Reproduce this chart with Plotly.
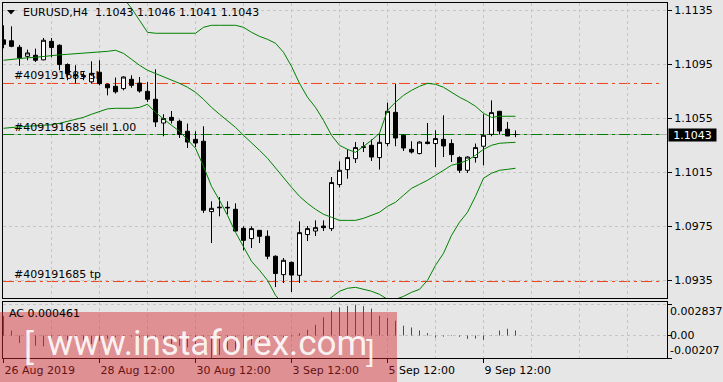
import plotly.graph_objects as go

# ---------------- data ----------------
bar_index = list(range(65))

open_ = [1.11131, 1.11124, 1.11076, 1.11009, 1.11017, 1.10983, 1.11120, 1.11091, 1.10948, 1.10872,
         1.10865, 1.10820, 1.10891, 1.10802, 1.10787, 1.10770, 1.10839, 1.10811, 1.10750, 1.10691,
         1.10515, 1.10557, 1.10528, 1.10454, 1.10394, 1.10380, 1.09859, 1.09887, 1.09891, 1.09876,
         1.09735, 1.09659, 1.09720, 1.09676, 1.09528, 1.09392, 1.09483, 1.09387, 1.09689, 1.09715,
         1.09752, 1.09733, 1.10059, 1.10170, 1.10251, 1.10339, 1.10350, 1.10259, 1.10363, 1.10594,
         1.10424, 1.10320, 1.10289, 1.10374, 1.10363, 1.10394, 1.10363, 1.10259, 1.10165, 1.10259,
         1.10343, 1.10431, 1.10602, 1.10469, 1.1043]
high = [1.11239, 1.11231, 1.11094, 1.11059, 1.11066, 1.11145, 1.11145, 1.11098, 1.10957, 1.10943,
        1.10891, 1.10972, 1.10980, 1.10807, 1.10852, 1.10861, 1.10869, 1.10856, 1.10819, 1.10913,
        1.10580, 1.10604, 1.10540, 1.10511, 1.10454, 1.10491, 1.09935, 1.09967, 1.09935, 1.09920,
        1.09750, 1.09750, 1.09720, 1.09720, 1.09535, 1.09515, 1.09489, 1.09787, 1.09752, 1.09794,
        1.09794, 1.10115, 1.10231, 1.10320, 1.10374, 1.10374, 1.10394, 1.10437, 1.10666, 1.10807,
        1.10431, 1.10380, 1.10380, 1.10515, 1.10461, 1.10572, 1.10394, 1.10269, 1.10269, 1.10363,
        1.10580, 1.10683, 1.10602, 1.10523, 1.1046]
low = [1.11069, 1.11076, 1.10939, 1.10980, 1.10967, 1.10980, 1.11002, 1.10906, 1.10832, 1.10809,
       1.10832, 1.10809, 1.10794, 1.10720, 1.10733, 1.10757, 1.10776, 1.10740, 1.10671, 1.10486,
       1.10417, 1.10511, 1.10404, 1.10330, 1.10337, 1.09849, 1.09626, 1.09824, 1.09839, 1.09708,
       1.09572, 1.09589, 1.09626, 1.09506, 1.09300, 1.09330, 1.09263, 1.09330, 1.09641, 1.09678,
       1.09715, 1.09715, 1.10037, 1.10103, 1.10219, 1.10300, 1.10234, 1.10170, 1.10343, 1.10343,
       1.10308, 1.10289, 1.10283, 1.10357, 1.10189, 1.10263, 1.10226, 1.10145, 1.10145, 1.10222,
       1.10202, 1.10417, 1.10431, 1.10419, 1.1041]
close = [1.11098, 1.11083, 1.10998, 1.11034, 1.10980, 1.11128, 1.11074, 1.10948, 1.10881, 1.10865,
         1.10861, 1.10883, 1.10807, 1.10776, 1.10746, 1.10856, 1.10794, 1.10752, 1.10691, 1.10523,
         1.10548, 1.10535, 1.10431, 1.10374, 1.10367, 1.09869, 1.09883, 1.09891, 1.09887, 1.09715,
         1.09646, 1.09733, 1.09676, 1.09528, 1.09400, 1.09498, 1.09389, 1.09703, 1.09733, 1.09740,
         1.09740, 1.10074, 1.10165, 1.10259, 1.10333, 1.10335, 1.10263, 1.10372, 1.10602, 1.10404,
         1.10330, 1.10300, 1.10374, 1.10363, 1.10400, 1.10345, 1.10281, 1.10165, 1.10263, 1.10333,
         1.10424, 1.10592, 1.10456, 1.10419, 1.1043]

bb_upper = [1.11483, 1.11498, 1.11506, 1.11513, 1.11520, 1.11528, 1.11535, 1.11535, 1.11535, 1.11535,
            1.11528, 1.11528, 1.11520, 1.11498, 1.11483, 1.11439, 1.11365, 1.11276, 1.11187, 1.11180,
            1.11180, 1.11180, 1.11180, 1.11180, 1.11180, 1.11224, 1.11239, 1.11239, 1.11239, 1.11239,
            1.11224, 1.11187, 1.11157, 1.11135, 1.11106, 1.11039, 1.10935, 1.10809, 1.10706, 1.10631,
            1.10535, 1.10424, 1.10350, 1.10320, 1.10298, 1.10343, 1.10387, 1.10439, 1.10609, 1.10669,
            1.10720, 1.10757, 1.10787, 1.10809, 1.10802, 1.10780, 1.10743, 1.10706, 1.10676, 1.10639,
            1.10587, 1.10557, 1.10565, 1.10565, 1.10565]
bb_middle = [1.10980, 1.10987, 1.10994, 1.10998, 1.11002, 1.11009, 1.11017, 1.11020, 1.11024, 1.11028,
             1.11031, 1.11035, 1.11039, 1.11046, 1.11054, 1.11031, 1.10987, 1.10943, 1.10906, 1.10883,
             1.10854, 1.10831, 1.10809, 1.10780, 1.10743, 1.10691, 1.10631, 1.10580, 1.10535, 1.10483,
             1.10424, 1.10372, 1.10313, 1.10254, 1.10180, 1.10106, 1.10039, 1.09972, 1.09920, 1.09876,
             1.09839, 1.09817, 1.09794, 1.09794, 1.09794, 1.09809, 1.09831, 1.09854, 1.09898, 1.09928,
             1.09980, 1.10031, 1.10061, 1.10091, 1.10128, 1.10165, 1.10202, 1.10217, 1.10239, 1.10276,
             1.10320, 1.10350, 1.10365, 1.10369, 1.10372]
bb_lower = [1.10476, 1.10483, 1.10487, 1.10491, 1.10494, 1.10498, 1.10502, 1.10513, 1.10528, 1.10543,
            1.10557, 1.10580, 1.10602, 1.10620, 1.10624, 1.10624, 1.10624, 1.10631, 1.10654, 1.10594,
            1.10543, 1.10498, 1.10454, 1.10387, 1.10328, 1.10194, 1.10046, 1.09943, 1.09831, 1.09706,
            1.09594, 1.09491, 1.09424, 1.09350, 1.09239, 1.09172, 1.09143, 1.09135, 1.09135, 1.09157,
            1.09187, 1.09224, 1.09269, 1.09291, 1.09298, 1.09283, 1.09269, 1.09246, 1.09209, 1.09209,
            1.09231, 1.09261, 1.09283, 1.09350, 1.09461, 1.09550, 1.09683, 1.09780, 1.09854, 1.09972,
            1.10106, 1.10143, 1.10165, 1.10172, 1.10180]

ac_values = [0.00180, 0.00045, -0.00070, -0.00120, -0.00095, -0.00100, -0.00060, -0.00030, -0.00045, -0.00055,
             -0.00065, -0.00080, -0.00050, -0.00030, -0.00015, -0.00005, -0.00010, -0.00020, -0.00035, -0.00060,
             -0.00070, -0.00080, -0.00095, -0.00110, -0.00130, -0.00170, -0.00207, -0.00180, -0.00150, -0.00140,
             -0.00120, -0.00090, -0.00060, -0.00045, -0.00040, -0.00020, -0.00010, 0.00020, 0.00052, 0.00099,
             0.00167, 0.00228, 0.00259, 0.00272, 0.002837, 0.00270, 0.00247, 0.00182, 0.00161, 0.00136,
             0.00090, 0.00074, 0.00046, 0.00022, -0.00019, -0.00010, -0.00005, -0.00012, -0.00031, -0.00028,
             -0.00040, 0.00003, 0.00046, 0.00062, 0.000461]

time_tick_index = [0, 12, 24, 36, 48, 60]
time_tick_text = ["26 Aug 2019", "28 Aug 12:00", "30 Aug 12:00", "3 Sep 12:00", "5 Sep 12:00", "9 Sep 12:00"]
grid_index = list(range(0, 84, 6))
price_ticks = [1.0935, 1.0975, 1.1015, 1.1055, 1.1095, 1.1135]
price_tick_text = ["1.0935", "1.0975", "1.1015", "1.1055", "1.1095", "1.1135"]
ac_ticks = [-0.00207, 0.0, 0.002837]
ac_tick_text = ["-0.00207", "0.00", "0.002837"]

symbol = "EURUSD,H4"
header_ohlc = ["1.1043", "1.1046", "1.1041", "1.1043"]
order_id = "#409191685"
order_sl = 1.10808
order_entry = 1.1043
order_tp = 1.09341
bid_price = 1.1043
ac_last = 0.000461

# ---------------- geometry / style ----------------
W, H = 723, 382
ML, MR, MT, MB = 3, 56, 3, 24
PW, PH = W - ML - MR, H - MT - MB          # 664 x 355
BG = "#e6e6e6"
GRID = "#c6c6c6"
GREEN = "#008000"
ORANGE = "#f0461a"
FONT = dict(family="DejaVu Sans", size=11, color="#000000")
DASHDOT = "11px,4px,3px,4px"


def px_x(px):
    return (px - ML) / PW


def px_y(py):
    return (H - MB - py) / PH


MAIN_H = 295                     # main pane: pixel rows 3..298
main_domain = [1 - MAIN_H / PH, 1.0]
sub_domain = [0.0, 56 / PH]      # sub pane: pixel rows 302..358
x_range = [-0.0625, 82.9375]     # 8 px per bar
price_top = 1.114041
price_range = [price_top - MAIN_H / 13500, price_top]
ac_range = [-0.00207, 0.00308]

fig = go.Figure()

fig.add_trace(go.Candlestick(
    x=bar_index, open=open_, high=high, low=low, close=close,
    increasing=dict(fillcolor="#ffffff", line=dict(color="#000000", width=1)),
    decreasing=dict(fillcolor="#000000", line=dict(color="#000000", width=1)),
    whiskerwidth=0, xaxis="x", yaxis="y", showlegend=False, hoverinfo="skip"))

for band in (bb_upper, bb_middle, bb_lower):
    fig.add_trace(go.Scatter(x=bar_index, y=band, mode="lines",
                             line=dict(color=GREEN, width=1), xaxis="x", yaxis="y",
                             showlegend=False, hoverinfo="skip"))

up_x, up_y, dn_x, dn_y = [], [], [], []
for i, v in enumerate(ac_values):
    rising = i > 0 and v > ac_values[i - 1]
    xs, ys = (up_x, up_y) if rising else (dn_x, dn_y)
    xs += [bar_index[i], bar_index[i], None]
    ys += [0, v, None]
fig.add_trace(go.Scatter(x=up_x, y=up_y, mode="lines", line=dict(color=GREEN, width=1),
                         xaxis="x2", yaxis="y2", showlegend=False, hoverinfo="skip"))
fig.add_trace(go.Scatter(x=dn_x, y=dn_y, mode="lines", line=dict(color="#ff0000", width=1),
                         xaxis="x2", yaxis="y2", showlegend=False, hoverinfo="skip"))

frame = dict(showline=True, mirror=True, linecolor="#000000", linewidth=1, zeroline=False)

shapes = [
    dict(type="line", xref="paper", yref="y", x0=0, x1=1, y0=bid_price, y1=bid_price,
         line=dict(color="#b0b0b0", width=1), layer="between"),
    dict(type="line", xref="paper", yref="y", x0=0, x1=0.99, y0=order_entry, y1=order_entry,
         line=dict(color=GREEN, width=1, dash=DASHDOT), layer="between"),
    dict(type="line", xref="paper", yref="y", x0=0, x1=0.99, y0=order_sl, y1=order_sl,
         line=dict(color=ORANGE, width=1, dash=DASHDOT), layer="between"),
    dict(type="line", xref="paper", yref="y", x0=0, x1=0.99, y0=order_tp, y1=order_tp,
         line=dict(color=ORANGE, width=1, dash=DASHDOT), layer="between"),
    # title triangle
    dict(type="path", xref="paper", yref="paper",
         path=f"M {px_x(7)} {px_y(10)} L {px_x(15)} {px_y(10)} L {px_x(11)} {px_y(14.5)} Z",
         fillcolor="#000000", line=dict(width=0), layer="above"),
    # watermark band
    dict(type="rect", xref="paper", yref="paper", x0=px_x(0), x1=px_x(397), y0=px_y(382), y1=px_y(312),
         fillcolor="rgba(212,40,46,0.45)", line=dict(width=0), layer="above"),
]

annotations = [
    dict(xref="paper", yref="paper", x=px_x(21), y=px_y(12.5), xanchor="left", yanchor="middle",
         text=symbol + "\u00a0\u00a0" + " ".join(header_ohlc), showarrow=False, font=FONT),
    dict(xref="paper", yref="y", x=px_x(12), y=order_sl, xanchor="left", yanchor="bottom", yshift=-1,
         text=order_id + " sl", showarrow=False, font=FONT),
    dict(xref="paper", yref="y", x=px_x(12), y=order_entry, xanchor="left", yanchor="bottom", yshift=-1,
         text=order_id + " sell 1.00", showarrow=False, font=FONT),
    dict(xref="paper", yref="y", x=px_x(12), y=order_tp, xanchor="left", yanchor="bottom", yshift=-1,
         text=order_id + " tp", showarrow=False, font=FONT),
    dict(xref="paper", yref="y", x=px_x(668), y=bid_price, xanchor="left", yanchor="middle",
         text=f"{bid_price:.4f}", showarrow=False, bgcolor="#000000", width=47, height=12,
         borderpad=0, font=dict(family="DejaVu Sans", size=11, color="#ffffff")),
    dict(xref="paper", yref="paper", x=px_x(7), y=px_y(313.5), xanchor="left", yanchor="middle",
         text=f"AC {ac_last:.6f}", showarrow=False, font=FONT),
    # AC axis labels
    dict(xref="paper", yref="paper", x=px_x(669), y=px_y(311.5), xanchor="left", yanchor="middle",
         borderpad=0, text=ac_tick_text[2], showarrow=False, font=FONT),
    dict(xref="paper", yref="y2", x=px_x(669), y=ac_ticks[1], xanchor="left", yanchor="middle",
         borderpad=0, text=ac_tick_text[1], showarrow=False, font=FONT),
    dict(xref="paper", yref="paper", x=px_x(669), y=px_y(350), xanchor="left", yanchor="middle",
         borderpad=0, text=ac_tick_text[0], showarrow=False, font=FONT),
    # watermark text
    dict(xref="paper", yref="paper", x=px_x(29), y=px_y(344), xanchor="center", yanchor="middle",
         text="[", showarrow=False,
         font=dict(family="Liberation Sans", size=36, color="rgba(255,255,255,0.9)")),
    dict(xref="paper", yref="paper", x=px_x(207), y=px_y(343), xanchor="center", yanchor="middle",
         text="www.instaforex.com", showarrow=False,
         font=dict(family="Roboto", size=35, color="rgba(255,255,255,0.9)")),
    dict(xref="paper", yref="paper", x=px_x(370), y=px_y(350), xanchor="center", yanchor="middle",
         text="]", showarrow=False,
         font=dict(family="Liberation Sans", size=30, color="rgba(255,255,255,0.9)")),
]

fig.update_layout(
    width=W, height=H, margin=dict(l=ML, r=MR, t=MT, b=MB, pad=0),
    paper_bgcolor=BG, plot_bgcolor=BG, showlegend=False,
    boxgap=0.5, boxgroupgap=0,
    font=FONT,
    xaxis=dict(domain=[0, 1], range=x_range, anchor="y", tickmode="array", tickvals=grid_index,
               showticklabels=False, ticks="", showgrid=True, gridcolor=GRID, griddash="3px,3px",
               gridwidth=1, rangeslider=dict(visible=False), **frame),
    yaxis=dict(domain=main_domain, range=price_range, anchor="x", side="right", tickmode="array",
               tickvals=price_ticks, ticktext=price_tick_text, ticks="outside", ticklen=4,
               tickcolor="#000000", showgrid=True, gridcolor=GRID, griddash="3px,3px",
               tickfont=FONT, **frame),
    xaxis2=dict(domain=[0, 1], range=x_range, anchor="y2", tickmode="array", tickvals=time_tick_index,
                ticktext=time_tick_text, ticks="outside", ticklen=4, tickcolor="#000000",
                ticklabelposition="outside right", ticklabelstandoff=2, tickfont=FONT,
                showgrid=True, gridcolor=GRID, griddash="3px,3px",
                minor=dict(tickmode="array", tickvals=grid_index, showgrid=True, gridcolor=GRID,
                           griddash="3px,3px", ticks=""),
                **frame),
    yaxis2=dict(domain=sub_domain, range=ac_range, anchor="x2", side="right", tickmode="array",
                tickvals=ac_ticks, showticklabels=False, ticks="outside", ticklen=4,
                tickcolor="#000000", showgrid=True, gridcolor=GRID, griddash="3px,3px", **frame),
    shapes=shapes,
    annotations=annotations,
)

fig.write_html("out.html")
